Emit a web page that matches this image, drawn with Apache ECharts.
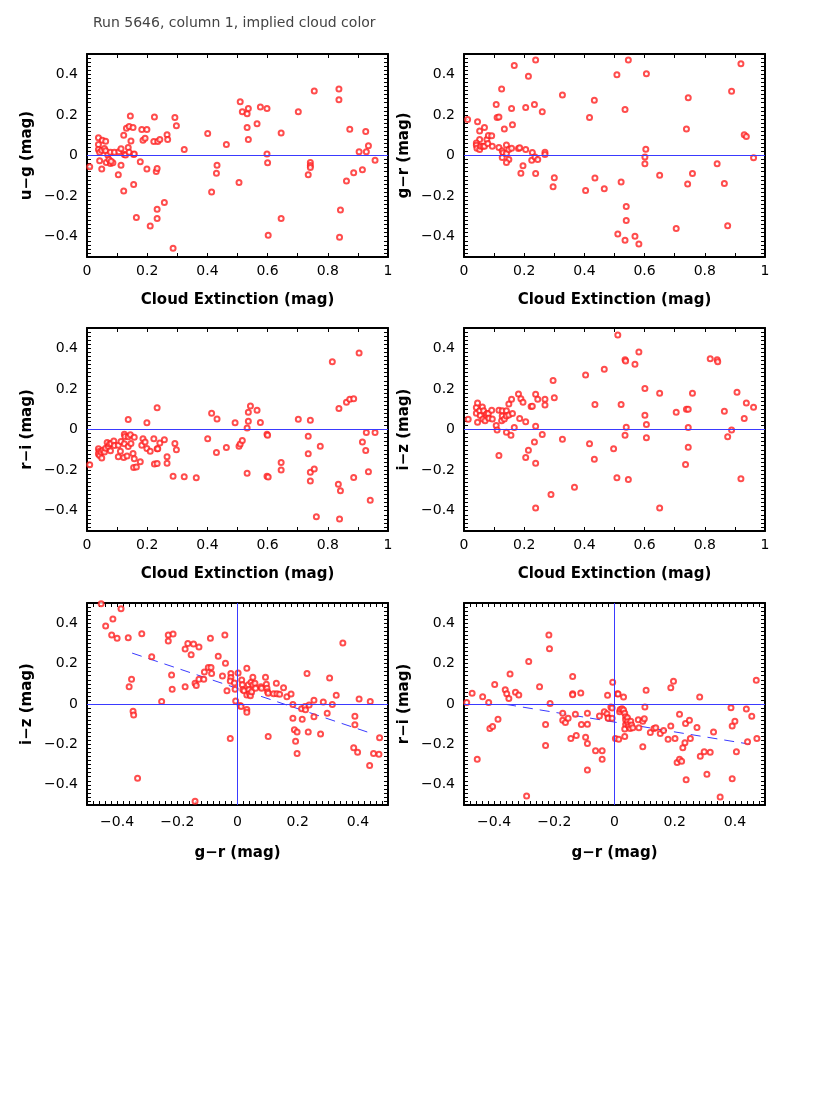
<!DOCTYPE html>
<html>
<head>
<meta charset="utf-8">
<script src="https://cdn.jsdelivr.net/npm/echarts@6/dist/echarts.min.js"></script>
<style>
  html, body { margin: 0; padding: 0; background: #fff; }
  #chart { width: 830px; height: 1106px; }
</style>
</head>
<body>
<div id="chart"></div>
<script>
// u-g vs cloud extinction
var ugVsExt = [
  [0.009,-0.056],[0.038,0.088],[0.051,0.075],[0.062,0.07],[0.038,0.054],[0.038,0.03],[0.042,0.016],
  [0.049,0.026],[0.058,0.034],[0.062,0.023],[0.069,0.003],[0.078,0.016],[0.091,0.016],[0.106,0.018],
  [0.113,0.033],[0.124,0.005],[0.128,0.002],[0.137,0.039],[0.14,0.016],[0.155,0.005],[0.157,0.007],
  [0.042,-0.026],[0.049,-0.066],[0.064,-0.034],[0.073,-0.02],[0.078,-0.039],[0.086,-0.036],[0.08,-0.028],
  [0.104,-0.095],[0.113,-0.048],[0.122,-0.175],[0.122,0.1],[0.131,0.134],[0.14,0.143],[0.144,0.195],
  [0.146,0.072],[0.153,0.138],[0.155,-0.143],[0.164,-0.306],[0.177,-0.031],[0.182,0.128],[0.186,0.075],
  [0.193,0.085],[0.199,0.128],[0.199,-0.066],[0.21,-0.347],[0.222,0.069],[0.224,0.19],[0.23,-0.079],
  [0.233,-0.064],[0.233,-0.265],[0.233,-0.31],[0.235,0.069],[0.242,0.079],[0.257,-0.231],[0.266,0.102],
  [0.268,0.079],[0.286,-0.457],[0.292,0.187],[0.297,0.147],[0.323,0.03],[0.401,0.108],[0.414,-0.18],
  [0.43,-0.088],[0.432,-0.048],[0.463,0.054],[0.505,-0.133],[0.509,0.265],[0.516,0.215],[0.532,0.206],
  [0.536,0.231],[0.532,0.138],[0.536,0.079],[0.565,0.157],[0.576,0.239],[0.598,0.231],[0.598,0.007],
  [0.6,-0.036],[0.602,-0.393],[0.645,0.111],[0.645,-0.31],[0.702,0.216],[0.735,-0.095],[0.742,-0.034],
  [0.742,-0.049],[0.742,-0.059],[0.755,0.318],[0.837,0.328],[0.837,0.275],[0.839,-0.403],[0.842,-0.269],
  [0.862,-0.126],[0.873,0.129],[0.886,-0.085],[0.904,0.018],[0.915,-0.07],[0.926,0.118],[0.928,0.018],
  [0.935,0.048],[0.957,-0.023]
];
// g-r vs cloud extinction
var grVsExt = [
  [0.012,0.177],[0.045,0.166],[0.052,0.121],[0.068,0.138],[0.052,0.079],[0.041,0.062],[0.041,0.051],
  [0.043,0.036],[0.052,0.03],[0.056,0.046],[0.063,0.046],[0.068,0.046],[0.076,0.079],[0.081,0.098],
  [0.092,0.097],[0.079,0.059],[0.094,0.046],[0.116,0.039],[0.127,0.023],[0.13,0.013],[0.127,-0.01],
  [0.141,0.052],[0.141,0.01],[0.149,0.03],[0.158,0.036],[0.149,-0.02],[0.141,-0.034],[0.134,0.13],
  [0.107,0.251],[0.11,0.187],[0.116,0.19],[0.125,0.328],[0.158,0.231],[0.161,0.152],[0.167,0.443],
  [0.181,0.034],[0.185,0.038],[0.189,-0.087],[0.196,-0.051],[0.205,0.236],[0.205,0.03],[0.214,0.39],
  [0.225,-0.023],[0.227,0.015],[0.234,0.251],[0.236,-0.007],[0.238,-0.089],[0.238,0.47],[0.245,-0.02],
  [0.26,0.215],[0.269,0.016],[0.269,0.005],[0.3,-0.11],[0.296,-0.154],[0.327,0.298],[0.404,-0.172],
  [0.417,0.187],[0.433,0.272],[0.435,-0.111],[0.466,-0.164],[0.508,0.398],[0.511,-0.387],[0.522,-0.13],
  [0.535,0.226],[0.535,-0.418],[0.539,-0.251],[0.539,-0.32],[0.546,0.47],[0.568,-0.398],[0.581,-0.436],
  [0.606,0.403],[0.604,0.031],[0.601,-0.008],[0.601,-0.041],[0.65,-0.097],[0.705,-0.359],[0.739,0.13],
  [0.745,0.285],[0.743,-0.141],[0.759,-0.089],[0.841,-0.041],[0.865,-0.138],[0.876,-0.346],[0.889,0.316],
  [0.92,0.452],[0.931,0.102],[0.938,0.093],[0.962,-0.011]
];
// r-i vs cloud extinction
var riVsExt = [
  [0.009,-0.174],[0.038,-0.095],[0.04,-0.108],[0.038,-0.121],[0.042,-0.128],[0.049,-0.141],[0.047,-0.111],
  [0.053,-0.102],[0.058,-0.111],[0.062,-0.092],[0.067,-0.064],[0.071,-0.084],[0.075,-0.072],[0.078,-0.105],
  [0.08,-0.069],[0.089,-0.057],[0.091,-0.079],[0.104,-0.077],[0.104,-0.134],[0.111,-0.107],[0.113,-0.059],
  [0.122,-0.138],[0.124,-0.023],[0.124,-0.07],[0.126,-0.034],[0.133,-0.131],[0.137,-0.036],[0.137,-0.084],
  [0.137,0.049],[0.144,-0.026],[0.146,-0.069],[0.153,-0.118],[0.155,-0.187],[0.157,-0.038],[0.157,-0.144],
  [0.164,-0.185],[0.177,-0.159],[0.182,-0.077],[0.186,-0.046],[0.193,-0.061],[0.199,0.033],[0.199,-0.093],
  [0.21,-0.107],[0.222,-0.046],[0.224,-0.17],[0.233,-0.167],[0.233,0.107],[0.233,-0.095],[0.235,-0.095],
  [0.242,-0.067],[0.257,-0.051],[0.266,-0.134],[0.266,-0.166],[0.286,-0.23],[0.292,-0.069],[0.297,-0.1],
  [0.323,-0.233],[0.363,-0.238],[0.401,-0.046],[0.414,0.08],[0.43,-0.113],[0.432,0.052],[0.463,-0.089],
  [0.492,0.033],[0.505,-0.082],[0.509,-0.072],[0.516,-0.054],[0.532,0.008],[0.532,-0.215],[0.536,0.041],
  [0.536,0.085],[0.543,0.116],[0.565,0.095],[0.576,0.034],[0.598,-0.023],[0.6,-0.028],[0.598,-0.23],
  [0.602,-0.234],[0.645,-0.162],[0.645,-0.2],[0.702,0.051],[0.735,-0.033],[0.735,-0.12],[0.742,0.046],
  [0.742,-0.21],[0.742,-0.254],[0.755,-0.195],[0.762,-0.43],[0.775,-0.082],[0.815,0.334],[0.837,0.103],
  [0.835,-0.27],[0.842,-0.302],[0.839,-0.441],[0.862,0.134],[0.873,0.149],[0.886,0.152],[0.886,-0.236],
  [0.904,0.377],[0.915,-0.062],[0.926,-0.103],[0.928,-0.015],[0.935,-0.208],[0.941,-0.349],[0.957,-0.015]
];
// i-z vs cloud extinction
var izVsExt = [
  [0.014,0.051],[0.041,0.108],[0.041,0.08],[0.045,0.131],[0.045,0.036],[0.052,0.092],[0.054,0.069],
  [0.061,0.111],[0.063,0.052],[0.065,0.092],[0.07,0.043],[0.074,0.072],[0.076,0.079],[0.081,0.079],
  [0.083,0.056],[0.092,0.095],[0.094,0.052],[0.107,0.02],[0.11,-0.003],[0.116,0.095],[0.116,-0.128],
  [0.125,0.043],[0.127,0.092],[0.127,0.067],[0.134,0.052],[0.141,0.092],[0.141,0.067],[0.141,-0.013],
  [0.149,0.072],[0.149,0.126],[0.156,-0.028],[0.158,0.149],[0.161,0.079],[0.167,0.01],[0.181,0.175],
  [0.185,0.054],[0.189,0.152],[0.196,0.134],[0.205,0.038],[0.205,-0.138],[0.214,-0.102],[0.223,0.113],
  [0.227,0.115],[0.234,-0.062],[0.238,0.174],[0.238,0.016],[0.238,-0.166],[0.238,-0.387],[0.245,0.149],
  [0.26,-0.025],[0.269,0.149],[0.269,0.121],[0.289,-0.32],[0.296,0.241],[0.3,0.157],[0.327,-0.048],
  [0.367,-0.284],[0.404,0.269],[0.417,-0.07],[0.433,-0.146],[0.435,0.123],[0.466,0.297],[0.497,-0.095],
  [0.508,-0.238],[0.511,0.466],[0.522,0.123],[0.535,0.344],[0.537,0.338],[0.535,-0.028],[0.539,0.011],
  [0.546,-0.246],[0.568,0.321],[0.581,0.382],[0.601,0.202],[0.601,0.07],[0.606,0.025],[0.606,-0.041],
  [0.65,0.179],[0.65,-0.387],[0.705,0.085],[0.736,-0.172],[0.739,0.1],[0.745,0.1],[0.745,0.01],
  [0.745,-0.087],[0.759,0.179],[0.818,0.348],[0.841,0.343],[0.843,0.334],[0.865,0.09],[0.876,-0.036],
  [0.889,-0.003],[0.907,0.184],[0.92,-0.243],[0.931,0.054],[0.938,0.131],[0.962,0.11]
];
// i-z vs g-r
var izVsGr = [
  [-0.453,0.496],[-0.387,0.471],[-0.414,0.421],[-0.438,0.386],[-0.418,0.342],[-0.4,0.325],[-0.363,0.328],
  [-0.318,0.348],[-0.23,0.342],[-0.23,0.312],[-0.214,0.347],[-0.285,0.234],[-0.352,0.123],[-0.36,0.085],
  [-0.347,-0.036],[-0.345,-0.055],[-0.252,0.012],[-0.219,0.143],[-0.217,0.073],[-0.332,-0.368],[-0.174,0.272],
  [-0.174,0.086],[-0.165,0.299],[-0.154,0.244],[-0.146,0.297],[-0.141,0.103],[-0.137,0.091],[-0.128,0.282],
  [-0.128,0.123],[-0.11,0.158],[-0.112,0.123],[-0.097,0.181],[-0.09,0.325],[-0.088,0.181],[-0.086,0.151],
  [-0.064,0.237],[-0.05,0.138],[-0.042,0.342],[-0.04,0.202],[-0.035,0.065],[-0.024,-0.171],[-0.022,0.151],
  [-0.022,0.131],[-0.024,0.114],[-0.01,0.104],[-0.008,0.073],[-0.006,0.015],[0.002,0.153],[0.009,-0.008],
  [0.012,-0.012],[0.014,0.119],[0.016,0.095],[0.018,0.07],[0.022,0.065],[0.031,0.177],[0.031,0.045],
  [0.031,-0.027],[0.031,-0.041],[0.036,0.095],[0.038,0.071],[0.04,0.051],[0.043,0.041],[0.045,0.108],
  [0.047,0.061],[0.051,0.133],[0.051,0.095],[0.058,0.103],[0.06,0.078],[0.078,0.086],[0.08,0.078],
  [0.093,0.133],[0.096,0.098],[0.098,0.078],[0.1,0.061],[0.102,0.053],[0.102,-0.161],[0.12,0.051],
  [0.129,0.103],[0.131,0.051],[0.14,0.048],[0.153,0.081],[0.164,0.036],[0.178,0.05],[0.184,-0.002],
  [0.184,-0.071],[0.189,-0.128],[0.198,-0.139],[0.193,-0.184],[0.198,-0.245],[0.213,-0.023],[0.215,-0.076],
  [0.224,-0.012],[0.226,-0.028],[0.231,0.151],[0.238,-0.005],[0.235,-0.139],[0.254,0.018],[0.254,-0.063],
  [0.276,-0.148],[0.285,0.01],[0.298,-0.046],[0.306,0.129],[0.315,-0.003],[0.328,0.043],[0.35,0.302],
  [0.386,-0.216],[0.39,-0.061],[0.39,-0.103],[0.399,-0.239],[0.404,0.025],[0.439,-0.305],[0.441,0.012],
  [0.452,-0.245],[0.47,-0.249],[0.472,-0.167],[-0.141,-0.481]
];
// r-i vs g-r
var riVsGr = [
  [-0.491,0.007],[-0.473,0.053],[-0.456,-0.274],[-0.438,0.036],[-0.418,0.008],[-0.414,-0.121],[-0.405,-0.111],
  [-0.398,0.096],[-0.387,-0.075],[-0.363,0.071],[-0.358,0.051],[-0.351,0.027],[-0.347,0.148],[-0.329,0.058],
  [-0.318,0.045],[-0.292,-0.456],[-0.285,0.211],[-0.249,0.086],[-0.229,-0.101],[-0.229,-0.206],[-0.218,0.342],
  [-0.216,0.274],[-0.214,0.003],[-0.172,-0.046],[-0.172,-0.081],[-0.163,-0.091],[-0.154,-0.071],[-0.145,-0.171],
  [-0.139,0.136],[-0.139,0.051],[-0.139,0.046],[-0.13,-0.051],[-0.127,-0.156],[-0.112,0.055],[-0.11,-0.101],
  [-0.096,-0.164],[-0.09,-0.046],[-0.09,-0.1],[-0.09,-0.196],[-0.09,-0.327],[-0.063,-0.231],[-0.05,-0.06],
  [-0.041,-0.231],[-0.041,-0.274],[-0.034,-0.038],[-0.025,-0.048],[-0.023,0.043],[-0.021,-0.068],[-0.021,-0.071],
  [-0.012,-0.015],[-0.008,-0.02],[-0.008,-0.071],[-0.006,0.108],[0.003,-0.171],[0.01,0.051],[0.012,0.05],
  [0.014,-0.174],[0.017,-0.038],[0.019,-0.027],[0.025,-0.023],[0.03,0.035],[0.03,-0.03],[0.034,-0.046],
  [0.037,-0.063],[0.037,-0.078],[0.037,-0.101],[0.034,-0.124],[0.034,-0.161],[0.043,-0.068],[0.043,-0.088],
  [0.045,-0.101],[0.048,-0.111],[0.052,-0.121],[0.054,-0.085],[0.057,-0.104],[0.061,-0.118],[0.081,-0.118],
  [0.079,-0.078],[0.094,-0.212],[0.094,-0.085],[0.099,-0.073],[0.101,-0.015],[0.105,0.068],[0.119,-0.141],
  [0.131,-0.121],[0.137,-0.118],[0.152,-0.146],[0.163,-0.131],[0.178,-0.174],[0.187,-0.109],[0.187,0.081],
  [0.196,0.113],[0.201,-0.171],[0.208,-0.289],[0.216,-0.274],[0.223,-0.284],[0.216,-0.051],[0.227,-0.216],
  [0.234,-0.192],[0.236,-0.096],[0.238,-0.375],[0.249,-0.081],[0.252,-0.171],[0.274,-0.116],[0.283,0.035],
  [0.285,-0.259],[0.298,-0.236],[0.307,-0.348],[0.318,-0.239],[0.329,-0.139],[0.351,-0.461],[0.387,-0.018],
  [0.391,-0.109],[0.391,-0.37],[0.4,-0.085],[0.405,-0.236],[0.438,-0.025],[0.442,-0.187],[0.456,-0.061],
  [0.471,0.118],[0.473,-0.171]
];
// dashed fit lines (end points)
var fitIzGr = [[-0.35, 0.252], [0.45, -0.148]];
var fitRiGr = [[-0.36, -0.002], [0.45, -0.199]];

// tick labels
var colorTicks = [-0.4, -0.2, 0, 0.2, 0.4];
var extTicks = [0, 0.2, 0.4, 0.6, 0.8, 1];

var FONT = 'DejaVu Sans';
var minus = function (v) { return String(v).replace('-', '\u2212'); };

var panels = [
  { left: 87, top: 54, h: 203, xname: 'Cloud Extinction (mag)', yname: 'u\u2212g (mag)', data: ugVsExt, ext: true },
  { left: 464, top: 54, h: 203, xname: 'Cloud Extinction (mag)', yname: 'g\u2212r (mag)', data: grVsExt, ext: true },
  { left: 87, top: 328, h: 203, xname: 'Cloud Extinction (mag)', yname: 'r\u2212i (mag)', data: riVsExt, ext: true },
  { left: 464, top: 328, h: 203, xname: 'Cloud Extinction (mag)', yname: 'i\u2212z (mag)', data: izVsExt, ext: true },
  { left: 87, top: 603, h: 202, xname: 'g\u2212r (mag)', yname: 'i\u2212z (mag)', data: izVsGr, ext: false, fit: fitIzGr },
  { left: 464, top: 603, h: 202, xname: 'g\u2212r (mag)', yname: 'r\u2212i (mag)', data: riVsGr, ext: false, fit: fitRiGr }
];

var grid = [], xAxis = [], yAxis = [], series = [];
var blue = '#3a3aff';

// one axis per side of the frame: fine ticks inside, labels only on bottom/left
function sideAxis(i, pos, ext, p, isX) {
  var ax = {
    gridIndex: i, type: 'value', position: pos,
    min: ext ? 0 : -0.5, max: ext ? 1 : 0.5, interval: ext ? 0.1 : 0.02,
    axisLine: { show: true, onZero: false, lineStyle: { color: '#000', width: 2 } },
    axisTick: { show: true, inside: true, length: 4, lineStyle: { color: '#000', width: 1 } },
    splitLine: { show: false },
    axisLabel: { show: false }
  };
  if (pos === 'bottom' || pos === 'left') {
    ax.axisLabel = { show: true, customValues: (ext ? extTicks : colorTicks).slice(),
      fontFamily: FONT, fontSize: 14, color: '#000',
      margin: isX ? (ext ? 7 : 10) : 9, formatter: minus };
    ax.name = isX ? p.xname : p.yname;
    ax.nameLocation = 'middle';
    ax.nameGap = isX ? (ext ? 36 : 41) : 52;
    ax.nameTextStyle = { fontFamily: FONT, fontSize: 15, fontWeight: 'bold', color: '#000' };
  }
  return ax;
}

panels.forEach(function (p, i) {
  grid.push({ left: p.left, top: p.top, width: 301, height: p.h });
  var base = xAxis.length, ybase = yAxis.length;
  xAxis.push(sideAxis(i, 'bottom', p.ext, p, true));
  xAxis.push(sideAxis(i, 'top', p.ext, p, true));
  yAxis.push(sideAxis(i, 'left', false, p, false));
  yAxis.push(sideAxis(i, 'right', false, p, false));

  var lines = [{ yAxis: 0 }];
  if (!p.ext) lines.push({ xAxis: 0 });
  series.push({
    type: 'scatter', xAxisIndex: base, yAxisIndex: ybase, data: p.data,
    symbol: 'emptyCircle', symbolSize: 5,
    itemStyle: { color: '#ff2020', borderColor: '#ff2020', borderWidth: 0.8 },
    markLine: { silent: true, symbol: 'none', label: { show: false },
      lineStyle: { color: blue, width: 1, type: 'solid' }, data: lines },
    z: 3
  });
  if (p.fit) {
    series.push({
      type: 'line', xAxisIndex: base, yAxisIndex: ybase, data: p.fit, symbol: 'none',
      lineStyle: { color: blue, width: 1, type: [10, 7] }, z: 2
    });
  }
});

var chart = echarts.init(document.getElementById('chart'), null, { renderer: 'canvas' });
chart.setOption({
  animation: false,
  backgroundColor: '#fff',
  title: { text: 'Run 5646, column 1, implied cloud color', left: 88, top: 11,
    textStyle: { fontFamily: FONT, fontSize: 14, fontWeight: 'normal', color: '#444' } },
  grid: grid, xAxis: xAxis, yAxis: yAxis, series: series
});
</script>
</body>
</html>
